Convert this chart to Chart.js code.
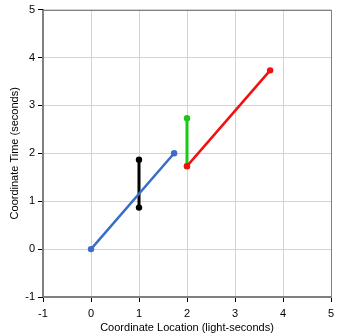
<!DOCTYPE html>
<html>
<head>
<meta charset="utf-8">
<script src="https://cdn.jsdelivr.net/npm/chart.js@4/dist/chart.umd.min.js"></script>
<style>
  html, body { margin: 0; padding: 0; background: #fff; }
  canvas { display: block; }
</style>
</head>
<body>
<canvas id="c" width="343" height="336"></canvas>
<script>
// World lines: [location (light-seconds), time (seconds)]
const blueX  = [0, 1.732];
const blueT  = [0, 2];
const blackX = [1, 1];
const blackT = [0.866, 1.866];
const greenX = [2, 2];
const greenT = [1.732, 2.732];
const redX   = [2, 3.732];
const redT   = [1.732, 3.732];

const tickValues = [-1, 0, 1, 2, 3, 4, 5];
const xTitle = 'Coordinate Location (light-seconds)';
const yTitle = 'Coordinate Time (seconds)';

const FONT = { family: '"Liberation Sans", Arial, sans-serif', size: 11 };

function pts(xs, ys) { return xs.map((x, i) => ({ x: x, y: ys[i] })); }

// order: lower values are painted later (on top)
function series(xs, ys, color, width, order) {
  return {
    data: pts(xs, ys),
    showLine: true,
    order: order,
    borderColor: color,
    backgroundColor: color,
    borderWidth: width,
    pointRadius: 3.2,
    pointBorderWidth: 0,
    pointHoverRadius: 3.2
  };
}

// Gray frame around the whole plot area
const framePlugin = {
  id: 'frame',
  beforeDatasetsDraw(chart) {
    const a = chart.chartArea, ctx = chart.ctx;
    ctx.save();
    ctx.strokeStyle = '#808080';
    ctx.lineWidth = 1;
    ctx.strokeRect(Math.round(a.left) - 0.5, Math.round(a.top) + 0.5,
                   Math.round(a.right - a.left) + 1, Math.round(a.bottom - a.top) - 1);
    ctx.restore();
  }
};

function axis(title, fitKey, fitVal, tickPad, titlePad) {
  return {
    type: 'linear',
    min: -1, max: 5,
    afterBuildTicks(s) { s.ticks = tickValues.map(v => ({ value: v })); },
    afterFit(s) { s[fitKey] = fitVal; },
    grid: { color: '#d3d3d3', lineWidth: 1, tickColor: '#000', tickLength: 5, drawTicks: true },
    border: { display: true, color: '#808080', width: 1 },
    ticks: { color: '#000', font: FONT, padding: tickPad, callback: v => String(v) },
    title: { display: true, text: title, color: '#000', font: FONT, padding: titlePad }
  };
}

new Chart(document.getElementById('c'), {
  type: 'scatter',
  data: {
    datasets: [
      series(blueX, blueT, '#3a6cc8', 2.5, 2),
      series(blackX, blackT, '#000000', 3, 3),
      series(greenX, greenT, '#19c819', 3, 1),
      series(redX, redT, '#f01010', 2.5, 0)
    ]
  },
  options: {
    responsive: false,
    animation: false,
    devicePixelRatio: 1,
    layout: { padding: { top: 8, right: 12, left: 0, bottom: 0 } },
    plugins: { legend: { display: false }, tooltip: { enabled: false } },
    scales: {
      x: axis(xTitle, 'height', 39, 5, { top: 0, bottom: 1 }),
      y: axis(yTitle, 'width', 43, 3, { top: 8, bottom: 0 })
    }
  },
  plugins: [framePlugin]
});
</script>
</body>
</html>
